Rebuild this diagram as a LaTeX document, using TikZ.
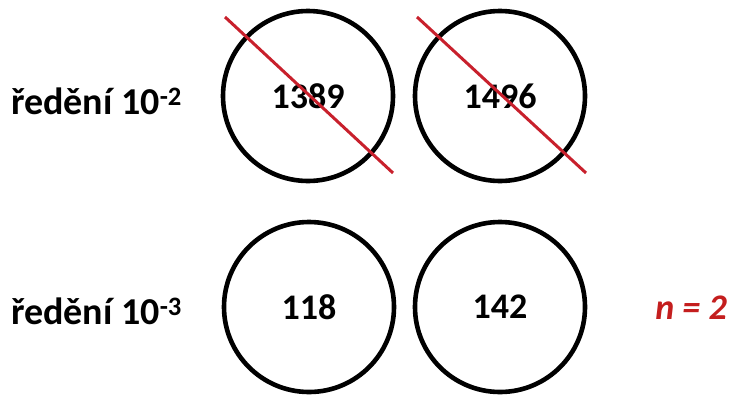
\documentclass[tikz,border=0pt]{standalone}
\usepackage{fontspec}
\setmainfont{Carlito}
\usetikzlibrary{positioning, calc}
\definecolor{crossred}{HTML}{C8202C}
\definecolor{countred}{HTML}{C41E1E}
\tikzset{
  plate/.style={circle, draw=black, line width=4.6pt, minimum size=170pt,
                inner sep=0pt, font=\fontsize{36}{40}\selectfont\bfseries},
  dillabel/.style={anchor=west, inner sep=0pt, font=\fontsize{38}{42}\selectfont\bfseries},
  strike/.style={draw=crossred, line width=3pt},
}
\begin{document}
\begin{tikzpicture}[x=1pt, y=-1pt]
  \useasboundingbox (0,0) rectangle (733,394);
  % plates
  \node[plate] (p11) at (308,96) {1389};
  \node[plate] (p12) at (500,96) {1496};
  \node[plate] (p21) at (309,307) {118};
  \node[plate] (p22) at (500,307) {142};
  % labels
  \node[dillabel] (lab1) at (11,101) {ředění 10\textsuperscript{-2}};
  \node[dillabel] (lab2) at (11,311) {ředění 10\textsuperscript{-3}};
  \node[anchor=east, inner sep=0pt, text=countred,
        font=\fontsize{36}{40}\selectfont\bfseries\itshape]
    (nn) at (727,308) {n = 2};
  % crossed-out plates
  \coordinate (s11a) at (225,17);
  \coordinate (s11b) at (393,173);
  \coordinate (s12a) at (417,17);
  \coordinate (s12b) at (586,173);
  \draw[strike] (s11a) -- (s11b);
  \draw[strike] (s12a) -- (s12b);
\end{tikzpicture}
\end{document}
